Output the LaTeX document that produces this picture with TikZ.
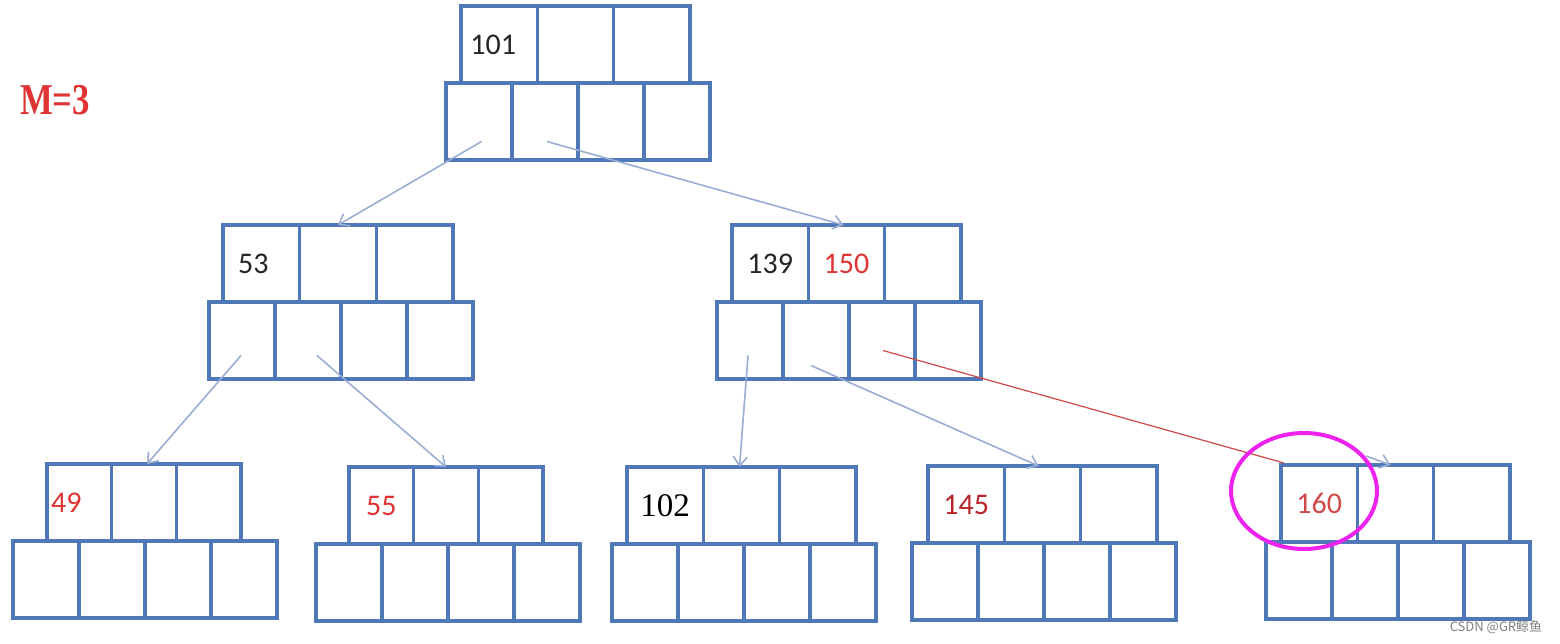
\documentclass[tikz,border=0pt]{standalone}
\usepackage{fontspec}
\setmainfont{Carlito}
\newfontfamily\numserif{Liberation Serif}
\newfontfamily\cjk{Noto Sans CJK SC}
\usetikzlibrary{positioning,arrows.meta,shapes.geometric}
\definecolor{boxblue}{HTML}{4F78B8}
\definecolor{arrowblue}{HTML}{9AAED3}
\definecolor{keydark}{HTML}{262626}
\definecolor{keyred}{HTML}{E03434}
\definecolor{keydeep}{HTML}{B8262B}
\definecolor{linered}{HTML}{D04848}
\definecolor{hilite}{HTML}{EE22EE}

% one B-tree node: name, key row x, key row width, pointer row x, top y, key 1, key 2
\newcommand{\btnode}[7]{%
  \node[keycell, minimum width={#3pt/3}, anchor=north west] (#1-k1) at (#2,#5) {#6};
  \node[keycell, minimum width={#3pt/3}, right=0pt of #1-k1] (#1-k2) {#7};
  \node[keycell, minimum width={#3pt/3}, right=0pt of #1-k2] (#1-k3) {};
  \foreach \i in {1,...,4}
    \node[ptrcell] (#1-p\i) at ({#4+(\i-1)*66},{#5+77}) {};
}

\begin{document}
\begin{tikzpicture}[x=1pt, y=-1pt,
  keycell/.style={draw=boxblue, line width=3.5pt, fill=white, inner sep=0pt,
                  outer sep=0pt, minimum height=77pt, text=keydark,
                  font=\fontsize{30}{30}\selectfont},
  ptrcell/.style={draw=boxblue, line width=3.5pt, fill=white, inner sep=0pt,
                  outer sep=0pt, minimum width=66pt, minimum height=77pt,
                  anchor=north west},
  ptrarrow/.style={-{Straight Barb[length=9pt, width=14pt]}, line width=1.6pt,
                   color=arrowblue},
  redline/.style={line width=1.2pt, color=linered},
  ring/.style={ellipse, draw=hilite, line width=4pt, minimum width=146pt,
               minimum height=116pt, inner sep=0pt}
]
\useasboundingbox[fill=white] (0,0) rectangle (1560,643);

\node[text=keyred] (order) at (55,100)
  {\numserif\bfseries\fontsize{44}{44}\selectfont\scalebox{0.79}[1]{M=3}};

% root
\btnode{root}{461}{229}{446}{6}{\hspace*{-12pt}101}{}
% second level
\btnode{left}{223}{230}{209}{225}{\hspace*{-16pt}53}{}
\btnode{right}{732}{229}{717}{225}{139}{\color{keyred}150}
% leaves
\btnode{leafa}{47}{194}{13}{464}{\hspace*{-26pt}\color{keyred}49}{}
\btnode{leafb}{349}{194}{316}{467}{\color{keyred}55}{}
\btnode{leafc}{627}{229}{612}{467}{{\numserif\fontsize{33}{33}\selectfont\color{black}102}}{}
\btnode{leafd}{928}{229}{912}{466}{\color{keydeep}145}{}
\btnode{leafe}{1281}{229}{1266}{465}{\color{linered}160}{}

\draw[ptrarrow] ([xshift=2.5pt, yshift=-20pt]root-p1.center) -- (left-k2.north);
\draw[ptrarrow] ([xshift=2pt, yshift=-20pt]root-p2.center) -- ([xshift=-3pt]right-k2.north);
\draw[ptrarrow] ([xshift=-1pt, yshift=-15pt]left-p1.center) -- ([xshift=3pt]leafa-k2.north);
\draw[ptrarrow] ([xshift=9pt, yshift=-15pt]left-p2.center) -- (leafb-k2.north);
\draw[ptrarrow] ([xshift=-2pt, yshift=-15pt]right-p1.center) -- ([xshift=-2pt]leafc-k2.north);
\draw[ptrarrow] ([xshift=-5pt, yshift=-25pt]right-p2.center) -- ([xshift=-4pt]leafd-k2.north);
\coordinate (stub) at (1366,456);
\draw[ptrarrow] (stub) -- ([xshift=-5pt]leafe-k2.north);
\draw[redline] ([xshift=1pt, yshift=-10pt]right-p3.center) -- ([xshift=3pt, yshift=2pt]leafe-k1.north west);

\node[ring] (mark) at (1304,491) {};

\node[text=gray, font=\cjk\fontsize{13}{13}\selectfont] (credit) at (1496,627) {CSDN @GR鲸鱼};
\end{tikzpicture}
\end{document}
